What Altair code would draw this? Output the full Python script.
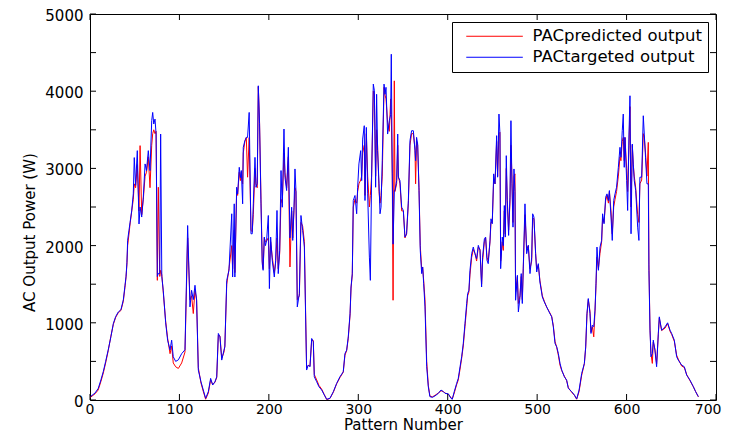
import altair as alt
import pandas as pd

# Pattern number (x) with the target (blue) and predicted (red) AC power
pattern = [
    0, 5.6, 9.2, 12.2, 14.9, 17.5, 20.4, 23.4, 26.1, 28.7, 31.6, 34.6, 37.3, 39.1, 40.3, 41.3, 42.1, 43.6, 44.8, 46.6,
    48.4, 49.5, 51, 52.9, 54.8, 56, 57.8, 59.6, 61.6, 63.2, 65.2, 67.1, 69, 70.1, 71.3, 72.7, 73.9, 75.3, 76.4, 78,
    79, 80.3, 81.9, 84.6, 86.8, 89.5, 91.3, 93.1, 95.8, 98.8, 102.5, 106.2,
    109.2, 111.8, 113.6, 115.5, 117.4, 119.2, 121.1, 124.1, 126.7, 129.3, 132.3, 134.9, 137.2, 139.7, 141.7, 143.5,
    145.3, 147.3, 149.8, 150.8, 152.9, 155.4, 158.5, 159.5, 161.3, 162, 164, 165.1, 166.9, 168.2, 169.2, 170.7, 171.4,
    173.2, 174.8, 176.2, 178, 180, 181.4, 182.6, 184.5, 185.6, 187, 188.2, 189.6, 191.2, 192.6, 193.6, 194.9, 196.2,
    197.5, 199.4, 200.6, 202, 203.8, 206.1, 207.6, 209.1, 210.5, 212.1, 213.6, 215, 216.9, 218, 219.9, 221.8, 223.6,
    225.5, 226.7, 228.1, 229.2, 230.3, 231.8, 234.1, 235.9, 237.8, 239.7, 242.2, 244.1, 246, 247.9, 249.7, 250.8,
    253.5, 256, 259.1, 262, 264.7, 268.3, 272.1, 275.8, 279.5, 283.2, 285.1, 287, 288.8, 290.8, 291.9, 293.3, 294.4,
    296.3, 298.2, 299.3, 300.7, 302.7, 303.8, 304.9, 306.7, 307.5, 309, 310.5, 312.4, 313.5, 314.9, 316.8, 318,
    319.4, 320.5, 321.6, 323.2, 324.3, 325.4, 326.8, 328.8, 329.9, 331, 332.8, 334.7, 336.2, 336.9, 338, 338.9,
    340.3, 341, 342.9, 344.1, 344.8, 346.6, 348.5, 350.4, 352.2, 354, 356, 357.8, 359.6, 361.6, 363.4, 364.1, 365.2,
    366.4, 367.9, 369.3, 370.9, 372, 373.1, 374.6, 376.5, 378.3, 380.1, 382.8, 385.7, 389.5, 392.5, 395.1, 397,
    400.7, 403.6, 405.1, 407.3,
    410, 411.8, 413.8, 415.6, 417.4, 419.3, 421.2, 422.3, 423.7, 424.9, 426.8, 428.6, 430.5, 432.3, 434.2, 436.1,
    437.9, 439, 441, 442.4, 443.9, 445.3, 447.3, 448.4, 449.8, 451.4, 452.9, 454.7, 455.8, 457.3, 458.4, 459.2, 461,
    462.2, 463.3, 464.4, 465.5, 466.6, 468.1, 469.6, 470.7, 471.8, 473, 474.1, 475.2, 475.9, 477.9, 479, 480.8,
    482.2, 483.4, 484.5, 486.4, 488.3, 490.1, 492, 493.9, 495, 496.4, 498.3, 499.5, 501.3, 503.1,
    505.8, 508, 510.7, 513.3, 516.3, 518.1, 520, 521.9, 523.7, 525.6, 527.5, 530.4, 533, 534.9, 538.6, 541.7, 544.2,
    546.9, 549.8, 552.8, 554.3, 555.7, 557.2, 559.1, 560.2, 561.7, 563.3, 564.7, 565.8, 566.9, 568.5, 570.3, 572.1,
    573.2, 574.8, 576.6, 578.1, 579.7, 580.8, 582.6, 584, 585.6, 587.1, 588.8, 590.8, 592.6, 593.7, 595.2, 596.3,
    597.4, 598.2, 600.1, 601.2, 602.7, 603.8, 605, 606.4, 607.5, 608.6, 610.2, 612.4, 613.8, 614.9, 616.9, 618.7,
    619.8, 621.2, 622.8, 624.3, 625, 626.2, 627.3, 628.8, 629.9, 631.7, 633.6, 635.5, 636.6, 639.2, 643, 645.9,
    648.6, 650.4, 653.4, 656, 657.8, 661.6, 664.6, 667.2, 670.9, 674.7, 677.2, 680.3,
]

target = [
    40, 90, 150, 260, 370, 500, 650, 820, 990, 1080, 1140, 1170, 1300, 1480, 1600, 1780, 2070, 2200, 2300, 2450,
    2670, 3140, 2780, 3230, 2280, 2500, 2370, 2627, 3058, 2972, 3230, 2972, 3618, 3725, 3575, 3639, 3445, 1600, 1640, 1637,
    3445, 1600, 1421, 1000, 775, 650, 775, 560, 500, 520, 600, 650,
    2260, 1206, 1421, 1300, 1486, 1292, 388, 236, 129, 22, 108, 280, 194, 236, 301, 862,
    818, 517, 646, 689, 1550, 1680, 2412, 1593, 2541, 1593, 2756, 2670, 3014, 2880, 2972, 2541, 3273,
    3359, 3402, 3402, 3725, 2153, 2153, 2541, 3143, 2756, 2800, 4070, 3580, 2541, 1766, 1680, 2110, 2000,
    2067, 2390, 1443, 2110, 1809, 1593, 1809, 2455, 1637, 1938, 2972, 2497, 3510, 2886, 2713, 3273, 2100,
    2497, 2067, 2497, 2993, 2713, 1206, 1379, 2390, 2196, 1981, 388, 452, 430, 797, 754, 301,
    236, 172, 129, 65, 9, 22, 108, 215, 301, 366, 603, 646, 818, 1120, 1464, 1637, 2584,
    2649, 2412, 2756, 3058, 3230, 2842, 3380, 3553, 2584, 3531, 2670, 1851, 1550, 2886, 4092, 4006,
    2756, 3960, 3230, 2800, 2412, 2497, 3100, 4092, 3960, 4050, 3445, 3617, 3700, 4479, 2929, 2019,
    2713, 2713, 2842, 3445, 2886, 2842, 2497, 2455, 2110, 2153, 2584, 3359, 3488, 3488, 3230, 3100, 3402,
    3316, 2713, 1938, 1637, 1723, 1508, 1206, 431, 172, 43, 35, 52, 86, 129, 108, 86,
    80, 22, 10, 108,
    215, 280, 431, 560, 732, 991, 1249, 1379, 1421, 1680, 1895, 1981, 1895, 1830, 2003, 1938,
    1464, 1850, 2089, 2110, 1809, 1766, 2067, 2347, 2283, 2929, 2800, 3424, 2886, 3704, 3445, 1701, 2110,
    2000, 2519, 2110, 3165, 2584, 2132, 2627, 3618, 2800, 2239, 2993, 2700, 1292, 1615, 1141, 1327,
    1637, 1250, 1723, 2541, 1895, 2003, 1637, 1850, 2412, 2370, 1895, 1658, 1766, 1529,
    1335, 1270, 1206, 1141, 1077, 947, 732, 689, 603, 474, 388, 301, 258, 150, 108, 65, 13,
    129, 344, 474, 689, 1120, 1314, 1120, 862, 969, 950, 1163, 1507, 1981, 1680, 1981, 2067,
    2412, 2283, 2627, 2670, 2584, 2713, 2370, 2067, 2584, 2670, 2756, 3014, 3273, 3144, 3488, 3704,
    3014, 3402, 2842, 2455, 3445, 3941, 2153, 3316, 3058, 2842, 2713, 2239, 2067, 2886, 2886, 3682,
    3445, 3144, 2800, 2800, 1680, 904, 560, 600, 775, 646, 431, 862, 1077, 904, 947, 1000,
    904, 862, 775, 560, 517, 452, 431, 323, 258, 172, 108, 43,
]

predicted = [
    30, 80, 130, 240, 350, 480, 640, 830, 980, 1070, 1130, 1160, 1280, 1460, 1590, 1760, 2000, 2150, 2280, 2440,
    2600, 2800, 2750, 3050, 2450, 3295, 2400, 2600, 2900, 2950, 3150, 2750, 3300, 3450, 3500, 3450, 3480, 1550, 2756, 1600,
    1680, 1620, 1400, 1020, 800, 600, 700, 480, 430, 409, 480, 620,
    2100, 1300, 1350, 1120, 1420, 1300, 420, 220, 110, 10, 90, 260, 200, 230, 290, 840,
    830, 540, 620, 700, 1500, 1700, 2000, 1700, 2200, 1650, 2700, 2650, 2950, 2842, 2950, 2800, 3200,
    3350, 3400, 2886, 3400, 2200, 2180, 2400, 3000, 2800, 2750, 4060, 3600, 2600, 1800, 1700, 2100, 2050,
    2060, 2100, 1700, 2050, 1850, 1650, 1780, 2100, 1700, 1900, 2600, 2550, 3200, 2950, 2750, 3150, 1723,
    2450, 2100, 2450, 2750, 2700, 1300, 1350, 2300, 2250, 2050, 420, 450, 440, 780, 770, 330,
    260, 190, 140, 70, 5, 20, 100, 210, 290, 360, 580, 640, 800, 1100, 1450, 1620, 2500,
    2600, 2550, 2700, 2800, 2850, 2900, 3200, 3300, 2650, 3450, 2900, 2500, 2650, 2900, 4000, 3950,
    2900, 3500, 3300, 2700, 2550, 2650, 2900, 4050, 3950, 3900, 3600, 3480, 3900, 3700, 2900, 1292,
    4134, 2700, 2800, 3300, 2900, 2800, 2450, 2450, 2100, 2150, 2550, 3300, 3450, 3450, 3250, 2800, 3350,
    3300, 2750, 2000, 1700, 1720, 1550, 1300, 500, 190, 50, 40, 60, 90, 120, 110, 90,
    75, 30, 15, 90,
    200, 260, 400, 540, 700, 950, 1200, 1350, 1400, 1620, 1850, 1950, 1900, 1800, 1980, 1950,
    1500, 1800, 2050, 2100, 1850, 1800, 2050, 2300, 2300, 2850, 2800, 3350, 2900, 3450, 3467, 1800, 2050,
    1938, 2450, 2150, 3000, 2600, 2200, 2550, 3300, 2900, 2300, 2900, 2929, 1400, 1600, 1250, 1350,
    1600, 1300, 1700, 2400, 1950, 2000, 1700, 1800, 2350, 2350, 1900, 1700, 1750, 1550,
    1350, 1280, 1200, 1150, 1080, 960, 760, 680, 580, 450, 380, 310, 250, 160, 100, 60, 10,
    110, 320, 470, 680, 1100, 1300, 1150, 880, 950, 818, 1150, 1480, 1850, 1700, 1900, 2050,
    2350, 2300, 2580, 2650, 2550, 2700, 2450, 2150, 2500, 2600, 2700, 2900, 3150, 3100, 3350, 3400,
    3100, 3400, 3000, 2700, 3300, 3800, 2500, 3300, 3050, 2900, 2750, 2400, 2300, 2800, 2850, 3450,
    3400, 3200, 2900, 3337, 1750, 920, 600, 474, 750, 660, 470, 850, 1060, 900, 930, 990,
    890, 850, 760, 580, 530, 440, 420, 330, 250, 170, 110, 40,
]

series_names = ["PACpredicted output", "PACtargeted output"]
series_colors = ["#ff0000", "#0000ff"]
x_ticks = [0, 100, 200, 300, 400, 500, 600, 700]
y_ticks = [0, 500, 1000, 1500, 2000, 2500, 3000, 3500, 4000, 4500, 5000]

W, H = 626, 386
FONT = "DejaVu Sans"

pred_df = pd.DataFrame({"pattern": pattern, "power": predicted, "series": series_names[0]})
targ_df = pd.DataFrame({"pattern": pattern, "power": target, "series": series_names[1]})
xt_df = pd.DataFrame({"pattern": x_ticks})
yt_df = pd.DataFrame({"power": y_ticks})

x_scale = alt.Scale(domain=[0, 700], nice=False, zero=False)
y_scale = alt.Scale(domain=[0, 5000], nice=False, zero=False)
color_scale = alt.Scale(domain=series_names, range=series_colors)

x_axis = alt.Axis(values=x_ticks, title="Pattern Number", titleFontSize=15, labelFontSize=14,
                  labelPadding=2, labelFlush=True, labelFlushOffset=5, labelOverlap=False, format="d",
                  titleY=29, titleBaseline="alphabetic")
y_axis = alt.Axis(values=y_ticks, title="AC Output Power (W)", titleFontSize=15, labelFontSize=15,
                  labelPadding=7, titlePadding=7, labelFlush=False, labelOverlap=False, format="d",
                  titleY=218, labelOffset=1.5)

legend = alt.Legend(
    title=None, orient="none", legendX=362, legendY=8,
    symbolType="M0,0H10", symbolSize=128, symbolStrokeWidth=1,
    labelOffset=58, labelFontSize=16.5, labelFont=FONT, labelColor="black", labelLimit=400,
    padding=6, rowPadding=4, strokeColor="black", fillColor="white", cornerRadius=0,
)

pred_line = alt.Chart(pred_df).mark_line(strokeWidth=1).encode(
    x=alt.X("pattern:Q", scale=x_scale, axis=x_axis),
    y=alt.Y("power:Q", scale=y_scale, axis=y_axis),
    color=alt.Color("series:N", scale=color_scale, legend=legend),
)
targ_line = alt.Chart(targ_df).mark_line(strokeWidth=1).encode(
    x=alt.X("pattern:Q", scale=x_scale),
    y=alt.Y("power:Q", scale=y_scale),
    color=alt.Color("series:N", scale=color_scale),
)

TL = 6
bottom_ticks = alt.Chart(xt_df).mark_rule(color="black", strokeWidth=1).encode(
    x=alt.X("pattern:Q", scale=x_scale), y=alt.value(H), y2=alt.value(H - TL))
top_ticks = alt.Chart(xt_df).mark_rule(color="black", strokeWidth=1).encode(
    x=alt.X("pattern:Q", scale=x_scale), y=alt.value(0), y2=alt.value(TL))
left_ticks = alt.Chart(yt_df).mark_rule(color="black", strokeWidth=1).encode(
    y=alt.Y("power:Q", scale=y_scale), x=alt.value(0), x2=alt.value(TL))
right_ticks = alt.Chart(yt_df).mark_rule(color="black", strokeWidth=1).encode(
    y=alt.Y("power:Q", scale=y_scale), x=alt.value(W), x2=alt.value(W - TL))

chart = alt.layer(pred_line, targ_line, bottom_ticks, top_ticks, left_ticks, right_ticks).properties(
    width=W, height=H,
    autosize=alt.AutoSizeParams(type="none"),
    padding={"left": 82, "top": 6, "right": 9, "bottom": 33},
    background="white",
).configure_view(
    stroke="black", strokeWidth=1,
).configure_axis(
    domain=False, ticks=False, tickSize=0, grid=False,
    labelFont=FONT, labelColor="black",
    titleFont=FONT, titleFontWeight="normal", titleColor="black",
)

chart.save("out.html", embed_options={"renderer": "svg", "actions": False})
